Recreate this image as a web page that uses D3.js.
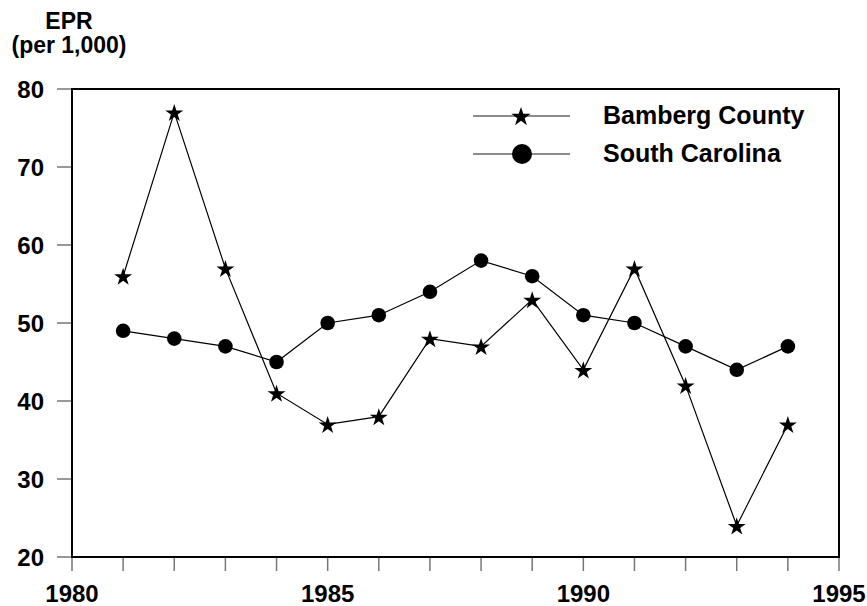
<!DOCTYPE html>
<html>
<head>
<meta charset="utf-8">
<script src="https://cdn.jsdelivr.net/npm/d3@7"></script>
<style>
  body { margin: 0; background: #fff; }
  text { font-family: "Liberation Sans", Arial, sans-serif; font-weight: bold; }
</style>
</head>
<body>
<svg id="chart" width="867" height="606"></svg>
<script>
var years = [1981, 1982, 1983, 1984, 1985, 1986, 1987, 1988, 1989, 1990, 1991, 1992, 1993, 1994];
var bamberg = [56, 77, 57, 41, 37, 38, 48, 47, 53, 44, 57, 42, 24, 37];
var southCarolina = [49, 48, 47, 45, 50, 51, 54, 58, 56, 51, 50, 47, 44, 47];
var yTicks = [20, 30, 40, 50, 60, 70, 80];
var xLabels = [1980, 1985, 1990, 1995];

var svg = d3.select('#chart');
var plotLeft = 72, plotRight = 839, plotTop = 89, plotBottom = 557;

var x = d3.scaleLinear().domain([1980, 1995]).range([plotLeft, plotRight]);
var y = d3.scaleLinear().domain([20, 80]).range([plotBottom, plotTop]);

// y ticks
svg.append('g').selectAll('line').data(yTicks).enter().append('line')
  .attr('x1', plotLeft - 15).attr('x2', plotLeft)
  .attr('y1', y).attr('y2', y)
  .attr('stroke', '#777').attr('stroke-width', 1.5);
svg.append('g').selectAll('text').data(yTicks).enter().append('text')
  .attr('x', 44).attr('y', function(d) { return y(d) + 8.5; })
  .attr('text-anchor', 'end').attr('font-size', 24)
  .text(function(d) { return d; });

// x ticks at each year
svg.append('g').selectAll('line').data(d3.range(1980, 1996)).enter().append('line')
  .attr('x1', x).attr('x2', x)
  .attr('y1', plotBottom).attr('y2', plotBottom + 14)
  .attr('stroke', '#777').attr('stroke-width', 1.5);
svg.append('g').selectAll('text').data(xLabels).enter().append('text')
  .attr('x', x).attr('y', 602)
  .attr('text-anchor', 'middle').attr('font-size', 24)
  .text(function(d) { return d; });

// frame
svg.append('rect')
  .attr('x', plotLeft).attr('y', plotTop)
  .attr('width', plotRight - plotLeft).attr('height', plotBottom - plotTop)
  .attr('fill', 'none').attr('stroke', '#000').attr('stroke-width', 2);

// axis title
svg.append('text').attr('x', 69).attr('y', 29).attr('text-anchor', 'middle')
  .attr('font-size', 23).text('EPR');
svg.append('text').attr('x', 69).attr('y', 53).attr('text-anchor', 'middle')
  .attr('font-size', 23).text('(per 1,000)');

var line = d3.line()
  .x(function(d, i) { return x(years[i]); })
  .y(function(d) { return y(d); });

var star = d3.symbol().type(d3.symbolStar).size(100);
var legendStar = d3.symbol().type(d3.symbolStar).size(115);

svg.append('path').datum(bamberg).attr('d', line)
  .attr('fill', 'none').attr('stroke', '#000').attr('stroke-width', 1.2);
svg.append('path').datum(southCarolina).attr('d', line)
  .attr('fill', 'none').attr('stroke', '#000').attr('stroke-width', 1.2);

svg.append('g').selectAll('path').data(bamberg).enter().append('path')
  .attr('d', star)
  .attr('transform', function(d, i) { return 'translate(' + x(years[i]) + ',' + (y(d) + 1) + ')'; })
  .attr('fill', '#000');
svg.append('g').selectAll('circle').data(southCarolina).enter().append('circle')
  .attr('cx', function(d, i) { return x(years[i]); })
  .attr('cy', y)
  .attr('r', 7.3).attr('fill', '#000');

// legend
var legend = svg.append('g');
legend.append('line').attr('x1', 473).attr('x2', 570).attr('y1', 116).attr('y2', 116)
  .attr('stroke', '#666').attr('stroke-width', 1.5);
legend.append('path').attr('d', legendStar).attr('transform', 'translate(521,117)').attr('fill', '#000');
legend.append('text').attr('x', 603).attr('y', 124).attr('font-size', 25).text('Bamberg County');
legend.append('line').attr('x1', 473).attr('x2', 570).attr('y1', 154).attr('y2', 154)
  .attr('stroke', '#666').attr('stroke-width', 1.5);
legend.append('circle').attr('cx', 522).attr('cy', 154).attr('r', 10).attr('fill', '#000');
legend.append('text').attr('x', 603).attr('y', 162).attr('font-size', 25).text('South Carolina');
</script>
</body>
</html>
